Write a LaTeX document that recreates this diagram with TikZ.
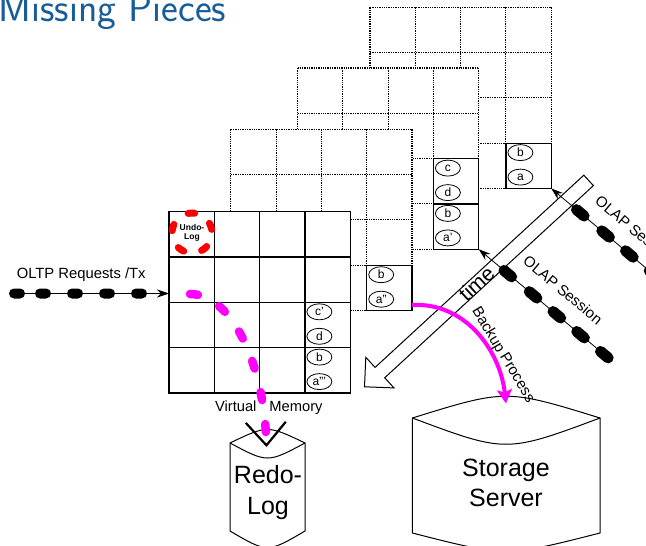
\documentclass[tikz,border=0pt]{standalone}
\usepackage{fontspec}
\setmainfont{Liberation Sans}
\usetikzlibrary{arrows.meta,shapes.geometric}

\definecolor{titleblue}{RGB}{24,92,152}
\definecolor{flowpink}{RGB}{255,0,255}

\tikzset{
	dotgrid/.style={line width=1.1pt,dash pattern=on 1.3pt off 1pt},
	cellbox/.style={draw,line width=1.2pt,minimum size=45.3pt,inner sep=0,outer sep=0,anchor=north west},
	letter/.style={draw,ellipse,line width=0.8pt,minimum width=25pt,minimum height=16pt,inner sep=0,font=\fontsize{12}{12}\selectfont},
	pill/.style={fill=black,rounded corners=5pt,minimum width=16pt,minimum height=10pt,inner sep=0},
	olappill/.style={pill,rounded corners=5.5pt,minimum width=21pt,minimum height=11pt,rotate=-40},
	session/.style={line width=0.8pt,-{Stealth[length=12pt,width=8pt]}},
	txt/.style={font=\fontsize{15}{18}\selectfont},
	undolog/.style={circle,draw=red,line width=7pt,line cap=round,dash pattern=on 6.5pt off 18.63pt,dash phase=21.5pt,minimum size=40pt,inner sep=0,align=center,font=\bfseries\fontsize{8.5}{9.5}\selectfont},
	vmflow/.style={flowpink,line width=8.5pt,line cap=round,dash pattern=on 8pt off 24.3pt,-{Straight Barb[color=black,length=23pt,width=40pt,line width=2.2pt]}},
	backup/.style={flowpink,line width=4pt,-{Stealth[length=14pt,width=15pt,inset=3pt]}},
	drum/.style={line width=1pt,fill=white}
}

\begin{document}
\begin{tikzpicture}[x=1pt,y=-1pt]
\useasboundingbox (0,0) rectangle (646,546);
\clip (0,0) rectangle (646,546);

\node[anchor=base west,inner sep=0,text=titleblue,font=\sffamily\fontsize{40}{40}\selectfont] (title) at (-1.5,21) {Missing Pieces};

% older snapshots, back to front
\foreach \gx/\gy in {370/7.2, 297.5/68, 230.8/129.3}{
	\fill[white] (\gx,\gy) rectangle +(181.2,181.2);
	\foreach \i in {0,...,4}{
		\draw[dotgrid] ({\gx+45.3*\i},\gy) -- +(0,181.2);
		\draw[dotgrid] (\gx,{\gy+45.3*\i}) -- +(181.2,0);
	}
}

\node[cellbox] (ba4) at (505.9,143.1) {};
\node[cellbox] (cd3) at (433.4,158.6) {};
\node[cellbox] (ba3) at (433.4,203.9) {};
\node[cellbox] (ba2) at (366.7,265.2) {};

% virtual memory
\node[draw,fill=white,line width=1.2pt,minimum size=181.2pt,inner sep=0,outer sep=0,anchor=north west] (vm) at (169,211.7) {};
\foreach \i in {1,2,3}{
	\draw[line width=1.2pt] ({169+45.3*\i},211.7) -- ({169+45.3*\i},392.9);
	\draw[line width=1.2pt] (169,{211.7+45.3*\i}) -- (350.2,{211.7+45.3*\i});
}
\node[cellbox,line width=1.4pt] (cdm) at (304.9,302.3) {};
\node[cellbox,line width=1.4pt] (bam) at (304.9,347.6) {};

\foreach \cell/\up/\lo in {ba4/b/a, cd3/c/d, ba3/b/a', ba2/b/a'', cdm/c'/d, bam/b/a'''}{
	\node[letter] at ([shift={(14.5,9.5)}]\cell.north west) {\up};
	\node[letter] at ([shift={(14.5,34)}]\cell.north west) {\lo};
}

\node[undolog] (undo) at (192,233) {Undo-\\Log};

\node[txt,font=\fontsize{14.7}{17}\selectfont,anchor=base] (vmlabel) at (268.8,411.7) {Virtual\hspace{13pt}Memory};

% disks
\draw[drum] (230,443) .. controls (267.5,425) .. (305,443) -- (305,531) .. controls (267.5,553) .. (230,531) -- cycle;
\draw[line width=1pt] (230,443) .. controls (267.5,463) .. (305,443);
\node[font=\fontsize{25}{31}\selectfont,align=center] (redo) at (268,493) {Redo-\\Log};
\coordinate (redotop) at (266.5,447);

\draw[drum] (412.4,418) .. controls (506,389) .. (600,418) -- (600,533) .. controls (506,557) .. (412.4,533) -- cycle;
\draw[line width=1pt] (412.4,418) .. controls (506,453) .. (600,418);
\node[font=\fontsize{25}{30}\selectfont,align=center] (storage) at (506,483) {Storage\\Server};
\coordinate (stortop) at (506,403.5);

% time arrow
\draw[line width=1pt,fill=white] (583.8,175.2) -- (375.1,367.4) -- (365.8,357.3) -- (364.5,386.8) -- (394.0,387.9) -- (384.7,377.8) -- (593.4,185.6) -- cycle;
\node[rotate=42.6,inner sep=0,font=\fontsize{21}{21}\selectfont] (time) at (476.5,283.6) {time};

% OLAP sessions
\foreach \d [count=\k] in {38,71,102,133,164}
	\node[olappill] (lo\k) at ([shift={({0.766*\d},{0.643*\d})}]ba3.south east) {};
\draw[session] (lo5) -- (ba3.south east);

\foreach \d [count=\k] in {38,71,102,133}
	\node[olappill] (hi\k) at ([shift={({0.766*\d},{0.643*\d})}]ba4.south east) {};
\coordinate (hiend) at ([shift={(153,128.6)}]ba4.south east);
\draw[session] (hiend) -- (ba4.south east);

\node[txt,rotate=-40] (olaplo) at (563,290) {OLAP Session};
\node[txt,rotate=-40] (olaphi) at (635,230) {OLAP Session};

% OLTP requests
\foreach \x [count=\k] in {17,43,75,107,139}
	\node[pill] (tx\k) at (\x,293.5) {};
\draw[session] (tx1.west) -- (vm.west |- tx1);
\node[txt,font=\fontsize{14.8}{17}\selectfont,anchor=base] (oltp) at (81.2,278.3) {OLTP Requests /Tx};

% log and backup
\coordinate (txin) at (190,294);
\draw[vmflow] (txin) .. controls (230,294) and (264,360) .. (redotop);

\draw[backup] ([yshift=5.5pt]ba2.south east) .. controls +(53,-3) and +(-6,-53.5) .. (stortop);
\node[txt,rotate=-59] (backuplbl) at (503,355) {Backup Process};
\end{tikzpicture}
\end{document}
